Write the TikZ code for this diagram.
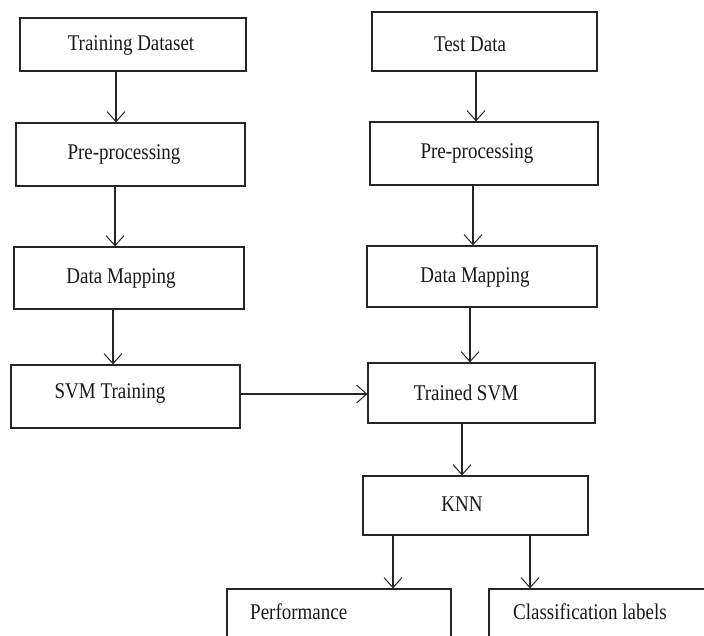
\documentclass[tikz,border=0pt]{standalone}
\usepackage{fontspec}
\setmainfont{Liberation Serif}
\usetikzlibrary{arrows.meta}
\newcommand{\tallt}[1]{\scalebox{1}[1.18]{#1}}
\begin{document}
\begin{tikzpicture}[x=1pt,y=1pt,
  box/.style={draw=black!85, line width=1.3pt, fill=white, inner sep=0pt},
  txt/.style={inner sep=0pt, font=\fontsize{19}{22}\selectfont, text=black!90},
  arr/.style={draw=black!85, line width=1.1pt, -{Straight Barb[length=10pt,width=18pt,line width=1pt]}}]
\useasboundingbox (0,0) rectangle (704,-635);
\clip (0,0) rectangle (704,-635);
\fill[white] (0,0) rectangle (704,-635);
% boxes
\node[box, minimum width=226, minimum height=53] (td) at (133,-44.5) {};
\node[box, minimum width=225, minimum height=59] (test) at (484.5,-41.5) {};
\node[box, minimum width=229, minimum height=63] (ppl) at (130.5,-154.5) {};
\node[box, minimum width=228, minimum height=63] (ppr) at (484,-153.5) {};
\node[box, minimum width=230, minimum height=62] (dml) at (129,-278) {};
\node[box, minimum width=230, minimum height=61] (dmr) at (482,-276.5) {};
\node[box, minimum width=229, minimum height=63] (svmt) at (125.5,-396.5) {};
\node[box, minimum width=227, minimum height=60] (tsvm) at (481.5,-393) {};
\node[box, minimum width=225, minimum height=59] (knn) at (475.5,-505.5) {};
\node[box, minimum width=224, minimum height=61] (perf) at (339,-619.5) {};
\node[box, minimum width=231, minimum height=61] (cls) at (604.5,-619.5) {};
% texts
\node[txt] (tdt) at (131,-45) {\tallt{Training Dataset}};
\node[txt] (testt) at (470,-44) {\tallt{Test Data}};
\node[txt] (pplt) at (124,-154) {\tallt{Pre-processing}};
\node[txt] (pprt) at (477,-153) {\tallt{Pre-processing}};
\node[txt] (dmlt) at (121,-278) {\tallt{Data Mapping}};
\node[txt] (dmrt) at (475,-277) {\tallt{Data Mapping}};
\node[txt] (svmtt) at (110,-393) {\tallt{SVM Training}};
\node[txt] (tsvmt) at (466,-393) {\tallt{Trained SVM}};
\node[txt] (knnt) at (462,-504) {\tallt{KNN}};
\node[txt, anchor=west] (perft) at (250,-612) {\tallt{Performance}};
\node[txt, anchor=west] (clst) at (513,-612) {\tallt{Classification labels}};
% arrows
\draw[arr] (116,0 |- td.south) -- (116,0 |- ppl.north);
\draw[arr] (476,0 |- test.south) -- (476,0 |- ppr.north);
\draw[arr] (115,0 |- ppl.south) -- (115,0 |- dml.north);
\draw[arr] (473,0 |- ppr.south) -- (473,0 |- dmr.north);
\draw[arr] (113,0 |- dml.south) -- (113,0 |- svmt.north);
\draw[arr] (470,0 |- dmr.south) -- (470,0 |- tsvm.north);
\draw[arr] (svmt.east |- 0,-394) -- (tsvm.west |- 0,-394);
\draw[arr] (462,0 |- tsvm.south) -- (462,0 |- knn.north);
\draw[arr] (393,0 |- knn.south) -- (393,0 |- perf.north);
\draw[arr] (530,0 |- knn.south) -- (530,0 |- cls.north);
\end{tikzpicture}
\end{document}
